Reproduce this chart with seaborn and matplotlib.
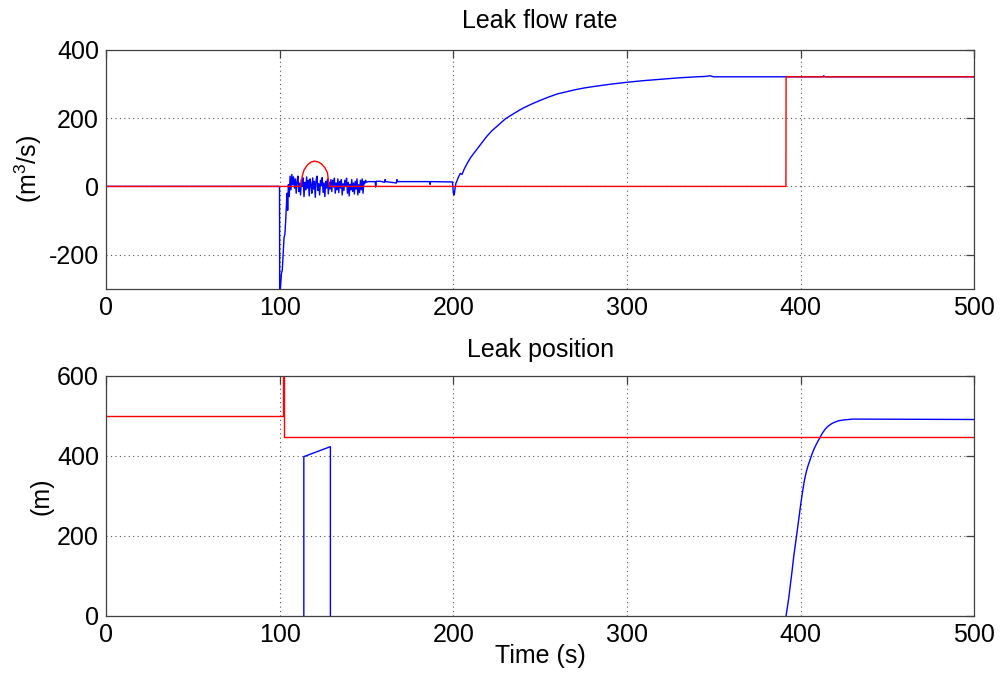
import numpy as np
import pandas as pd
import matplotlib
matplotlib.use("Agg")
import matplotlib.pyplot as plt
import seaborn as sns

# ---------------- data ----------------
# Leak flow rate, blue (estimate)
flow_blue_t = [0, 99.9, 100.0, 100.5, 101.0, 101.5, 102.0, 102.5, 103.0, 103.5, 104.0, 104.3, 104.6, 105.0, 105.5]
flow_blue_v = [0, 0, -330, -290, -255, -245, -200, -150, -140, -95, -40, -20, -70, 5, -30]
noise_t = [106.0 + 0.5 * i for i in range(89)]
noise_v = [30, -10, 35, 5, 28, -5, 22, -20, 15, 30, -15, 10, -25, 20, 0, 25, -30, 12, -10, 28,
           -5, 18, -28, 22, 5, -20, 25, -8, 15, -32, 20, 30, -12, 8, -25, 18, 2, 26, -18, 10,
           -30, 15, -5, 22, -22, 12, -8, 20, -15, 18, -2, 24, -20, 10, -10, 22, -18, 14, -5, 20,
           -25, 8, -12, 18, 0, 24, -20, 12, -28, 6, -10, 20, -15, 10, -22, 15, -8, 22, -25, 5,
           -18, 18, -10, 22, -20, 15, 8, 18, 12]
tail_t = [151, 155.0, 155.3, 155.6, 158, 160.4, 160.7, 161.0, 167.2, 167.5, 167.8, 186.4, 186.6, 186.8,
          199.5, 200.0, 200.5, 201.0, 201.5, 202, 203, 204, 205, 206, 208, 210, 213, 216, 219, 222,
          226, 230, 235, 240, 245, 250, 255, 260, 265, 270, 275, 280, 290, 300, 310, 320, 330, 340,
          345, 347.6, 350, 391.5, 413.0, 413.2, 414.0, 500]
tail_v = [14, 14, -2, 15, 15, 12, 20, 14, 10, 20, 14, 14, 6, 14,
          13, -20, -25, -5, 10, 15, 28, 38, 35, 48, 68, 85, 105, 125, 145, 162,
          180, 198, 214, 229, 241, 252, 262, 271, 277, 283, 288, 292, 299, 305, 310, 314, 318, 321,
          322, 324, 321, 321, 321, 324, 321, 321]

# Leak flow rate, red
flow_red_t = [0, 112, 113, 114, 116, 118, 120, 122, 124, 126, 127.5, 128.5, 391.5, 391.6, 500]
flow_red_v = [0, 0, 30, 48, 63, 71, 74, 72, 66, 55, 40, 0, 0, 321, 321]

# Leak position, red
pos_red_t = [0, 101.8, 101.8, 102.2, 102.2, 500]
pos_red_v = [500, 500, 700, 700, 448, 448]

# Leak position, blue
pos_blue_t = [0, 113.9, 113.9, 129.2, 129.2, 391.5, 393, 394, 395, 396, 397, 398, 399, 400,
              401, 402, 403, 404, 405, 406, 407, 408, 409, 410, 411, 412, 413, 414, 415, 416,
              418, 420, 422, 425, 430, 500]
pos_blue_v = [-3, -3, 398, 423, -3, -3, 40, 75, 110, 148, 180, 212, 245, 278,
              308, 335, 356, 372, 385, 398, 410, 420, 429, 437, 445, 453, 460, 466, 471, 475,
              481, 485, 488, 490, 492, 491]

x_ticks = [0, 100, 200, 300, 400, 500]
flow_ticks = [-200, 0, 200, 400]
pos_ticks = [0, 200, 400, 600]

# ---------------- style ----------------
sns.set_style("white")
plt.rcParams['font.family'] = ['Liberation Sans', 'DejaVu Sans']
plt.rcParams['mathtext.fontset'] = 'custom'
plt.rcParams['mathtext.rm'] = 'Liberation Sans'
plt.rcParams['axes.unicode_minus'] = False
plt.rcParams['text.color'] = 'black'
plt.rcParams['axes.labelcolor'] = 'black'

fig = plt.figure(figsize=(10.05, 6.78), dpi=100)
ax1 = fig.add_axes([0.1055, 0.574, 0.864, 0.3525])
ax2 = fig.add_axes([0.1055, 0.092, 0.864, 0.3535])

BLUE = "#0000ff"
RED = "#ff0000"
LW = 1.0

fb = pd.DataFrame({"t": flow_blue_t + noise_t + tail_t, "v": flow_blue_v + noise_v + tail_v})
fr = pd.DataFrame({"t": flow_red_t, "v": flow_red_v})
pr = pd.DataFrame({"t": pos_red_t, "v": pos_red_v})
pb = pd.DataFrame({"t": pos_blue_t, "v": pos_blue_v})

sns.lineplot(data=fb, x="t", y="v", ax=ax1, color=BLUE, linewidth=LW, estimator=None, sort=False)
sns.lineplot(data=fr, x="t", y="v", ax=ax1, color=RED, linewidth=LW, estimator=None, sort=False)
sns.lineplot(data=pb, x="t", y="v", ax=ax2, color=BLUE, linewidth=LW, estimator=None, sort=False)
sns.lineplot(data=pr, x="t", y="v", ax=ax2, color=RED, linewidth=LW, estimator=None, sort=False)

FS = 18
for ax, yt, ylim in [(ax1, flow_ticks, (-300, 400)), (ax2, pos_ticks, (0, 600))]:
    ax.set_xlim(0, 500)
    ax.set_ylim(*ylim)
    ax.set_xticks(x_ticks)
    ax.set_yticks(yt)
    ax.grid(True, linestyle=(0, (1, 3)), color="#555555", linewidth=0.8)
    ax.tick_params(direction="in", length=6, width=0.9, color="#404040",
                   top=True, right=True, labelsize=FS, pad=5, labelcolor="black")
    for s in ax.spines.values():
        s.set_color("#404040")
        s.set_linewidth(0.9)
        s.set_visible(True)
    ax.set_xlabel("")
    ax.set_ylabel("")

ax1.set_title("Leak flow rate", fontsize=FS, pad=16, color="black")
ax2.set_title("Leak position", fontsize=FS, pad=14, color="black")
ax1.set_ylabel("(m$^3$/s)", fontsize=FS)
ax2.set_ylabel("(m)", fontsize=FS)
ax1.yaxis.set_label_coords(-0.072, 0.5)
ax2.yaxis.set_label_coords(-0.060, 0.5)
ax2.set_xlabel("Time (s)", fontsize=FS, labelpad=-2)

fig.savefig("out.png", dpi=100)
